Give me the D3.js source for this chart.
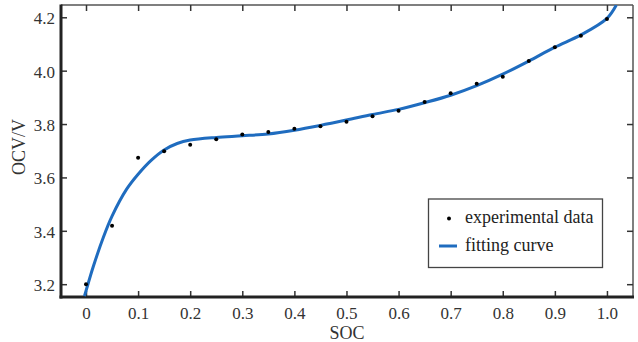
<!DOCTYPE html>
<html><head><meta charset="utf-8">
<script src="https://cdn.jsdelivr.net/npm/d3@7"></script>
<style>
html,body{margin:0;padding:0;background:#fff;}
svg{display:block;}
text{font-family:"Liberation Serif","Times New Roman",serif;}
</style></head>
<body>
<svg id="chart" width="638" height="342"></svg>
<script>
// Experimental data
const socData = [0,0.05,0.1,0.15,0.2,0.25,0.3,0.35,0.4,0.45,0.5,0.55,0.6,0.65,0.7,0.75,0.8,0.85,0.9,0.95,1.0];
const ocvData = [3.20,3.419,3.674,3.698,3.722,3.743,3.761,3.770,3.782,3.792,3.809,3.829,3.850,3.883,3.915,3.951,3.977,4.036,4.088,4.131,4.194];
// Fitting curve
const fitSoc = [-0.003,0,0.014,0.033,0.05,0.078,0.1,0.125,0.15,0.175,0.2,0.25,0.3,0.35,0.4,0.45,0.5,0.55,0.6,0.65,0.7,0.75,0.8,0.85,0.9,0.95,1.0,1.018];
const fitOcv = [3.155,3.175,3.266,3.374,3.455,3.556,3.612,3.664,3.703,3.727,3.740,3.750,3.756,3.763,3.777,3.795,3.815,3.836,3.855,3.880,3.908,3.944,3.987,4.036,4.088,4.134,4.196,4.246];
const xTicks = [0,0.1,0.2,0.3,0.4,0.5,0.6,0.7,0.8,0.9,1.0];
const xTickLabels = ["0","0.1","0.2","0.3","0.4","0.5","0.6","0.7","0.8","0.9","1.0"];
const yTicks = [3.2,3.4,3.6,3.8,4.0,4.2];
const yTickLabels = ["3.2","3.4","3.6","3.8","4.0","4.2"];
const legendLabels = ["experimental data","fitting curve"];

const L=61, R=633, T=5, B=297;
const x = d3.scaleLinear().domain([-0.048,1.05]).range([L,R]);
const y = d3.scaleLinear().domain([3.152,4.246]).range([B,T]);
const svg = d3.select("#chart");
const blue = "#1f6cbf";

svg.append("clipPath").attr("id","clip").append("rect")
  .attr("x",L).attr("y",T).attr("width",R-L).attr("height",B-T);

// frame: top & right thin
svg.append("line").attr("x1",L).attr("x2",R).attr("y1",T).attr("y2",T).attr("stroke","#555").attr("stroke-width",1.5);
svg.append("line").attr("x1",R).attr("x2",R).attr("y1",T).attr("y2",B).attr("stroke","#555").attr("stroke-width",1.5);

// axes via d3 axis generators (inward ticks)
const fmtX = (d,i)=>xTickLabels[i];
const fmtY = (d,i)=>yTickLabels[i];
const gx = svg.append("g").attr("transform",`translate(0,${B})`)
  .call(d3.axisBottom(x).tickValues(xTicks).tickFormat(fmtX).tickSizeInner(-6).tickSizeOuter(0).tickPadding(17));
const gxTop = svg.append("g").attr("transform",`translate(0,${T})`)
  .call(d3.axisTop(x).tickValues(xTicks).tickFormat("").tickSizeInner(-6).tickSizeOuter(0));
const gy = svg.append("g").attr("transform",`translate(${L},0)`)
  .call(d3.axisLeft(y).tickValues(yTicks).tickFormat(fmtY).tickSizeInner(-6).tickSizeOuter(0).tickPadding(10));
const gyR = svg.append("g").attr("transform",`translate(${R},0)`)
  .call(d3.axisRight(y).tickValues(yTicks).tickFormat("").tickSizeInner(-6).tickSizeOuter(0));

[gx,gxTop,gy,gyR].forEach(g=>{
  g.attr("font-family",null);
  g.select(".domain").remove();
  g.selectAll(".tick line").attr("stroke","#333").attr("stroke-width",1.5);
  g.selectAll(".tick text").attr("font-family","Liberation Serif, serif").attr("font-size",17).attr("fill","#333");
});
gx.selectAll(".tick text").attr("dy","0.71em").attr("y",10);
gy.selectAll(".tick text").attr("dy","0.38em").attr("x",-6);

// thick left & bottom axes
svg.append("line").attr("x1",L).attr("x2",L).attr("y1",T-0.5).attr("y2",B+1.5).attr("stroke","#222").attr("stroke-width",3);
svg.append("line").attr("x1",L-1.5).attr("x2",R+1).attr("y1",B).attr("y2",B).attr("stroke","#222").attr("stroke-width",3);

// fitting curve
const fit = fitSoc.map((s,i)=>[s,fitOcv[i]]);
svg.append("path").datum(fit).attr("clip-path","url(#clip)")
  .attr("fill","none").attr("stroke",blue).attr("stroke-width",3)
  .attr("d", d3.line().x(d=>x(d[0])).y(d=>y(d[1])).curve(d3.curveCatmullRom.alpha(0.5)));

// experimental points
svg.append("g").selectAll("circle").data(socData).join("circle")
  .attr("cx",d=>x(d)).attr("cy",(d,i)=>y(ocvData[i])).attr("r",2).attr("fill","#000");

// axis titles
svg.append("text").attr("x",(L+R)/2).attr("y",339).attr("text-anchor","middle")
  .attr("font-size",18).attr("fill","#333").text("SOC");
svg.append("text").attr("transform",`translate(25,${(T+B)/2-4}) rotate(-90)`).attr("text-anchor","middle")
  .attr("font-size",18).attr("fill","#333").text("OCV/V");

// legend
const lg = svg.append("g");
lg.append("rect").attr("x",428.5).attr("y",199).attr("width",174).attr("height",68.5)
  .attr("fill","#fff").attr("stroke","#444").attr("stroke-width",1.3);
lg.append("circle").attr("cx",449).attr("cy",218.5).attr("r",2).attr("fill","#000");
lg.append("line").attr("x1",439).attr("x2",457).attr("y1",246).attr("y2",246).attr("stroke",blue).attr("stroke-width",3);
lg.append("text").attr("x",465).attr("y",223).attr("font-size",18).attr("fill","#222").text(legendLabels[0]);
lg.append("text").attr("x",465).attr("y",251).attr("font-size",18).attr("fill","#222").text(legendLabels[1]);
</script>
</body></html>
